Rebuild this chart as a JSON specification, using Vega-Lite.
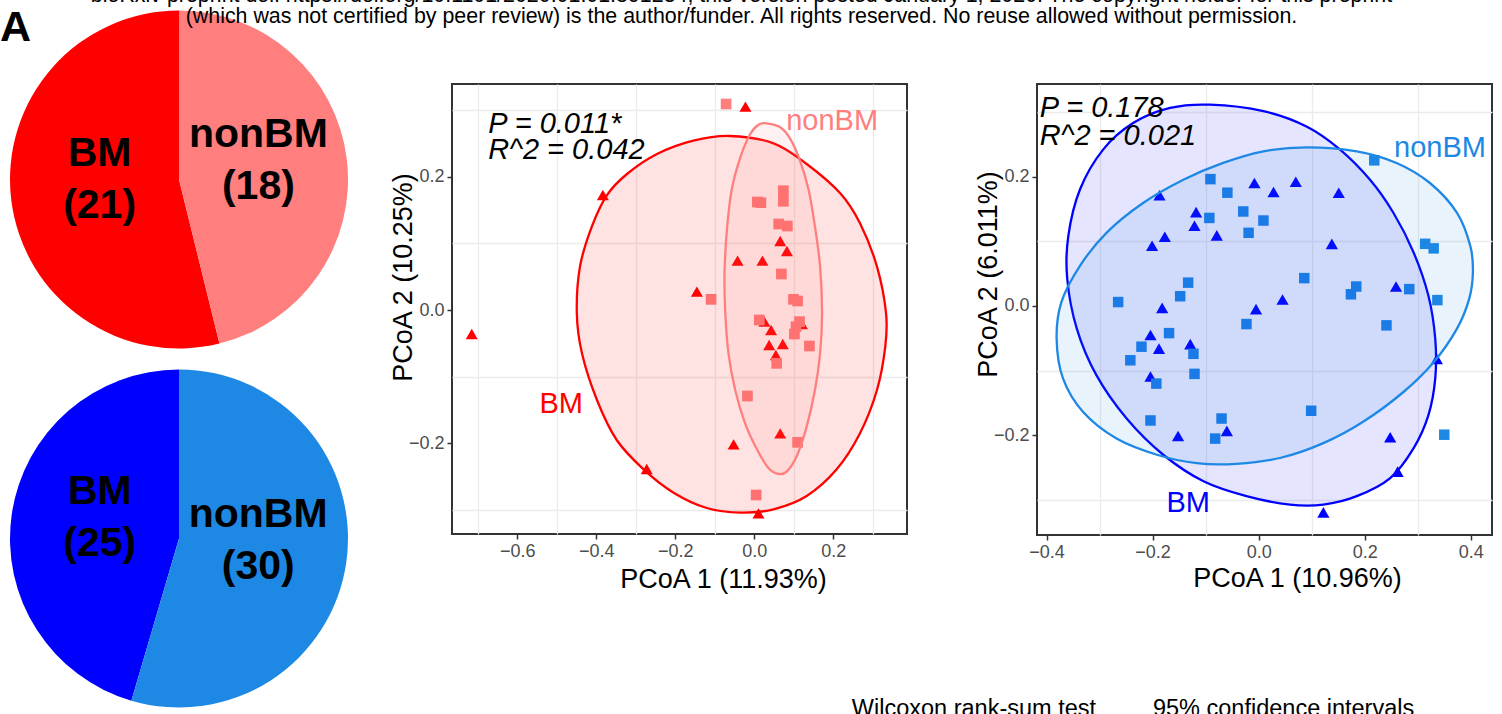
{
  "$schema": "https://vega.github.io/schema/vega-lite/v6.json",
  "background": "white",
  "padding": {"top": -16, "left": 0, "right": 0, "bottom": 0},
  "title": {
    "text": ["bioRxiv preprint doi: https://doi.org/10.1101/2020.01.01.891234; this version posted January 1, 2020. The copyright holder for this preprint", "(which was not certified by peer review) is the author/funder. All rights reserved. No reuse allowed without permission."],
    "anchor": "middle", "frame": "bounds", "offset": -27, "dx": -5, "fontSize": 21.4, "fontWeight": "normal", "font": "Liberation Sans", "color": "black", "lineHeight": 21
  },
  "columns": 5,
  "align": "none",
  "bounds": "flush",
  "spacing": 0,
  "resolve": {"scale": {"color": "independent"}},
  "concat": [
    {"width": 358, "height": 84, "title": {"text": "A", "anchor": "start", "frame": "group", "offset": -50, "fontSize": 43, "fontWeight": "bold", "color": "black", "font": "Liberation Sans"},
     "data": {"values": [{}]}, "mark": "text", "encoding": {"text": {"value": ""}}},
    {"width": 94, "height": 84, "data": {"values": [{}]}, "mark": "text", "encoding": {"text": {"value": ""}}},
    {"width": 455, "height": 84, "data": {"values": [{}]}, "mark": "text", "encoding": {"text": {"value": ""}}},
    {"width": 130, "height": 84, "data": {"values": [{}]}, "mark": "text", "encoding": {"text": {"value": ""}}},
    {"width": 455, "height": 84, "data": {"values": [{}]}, "mark": "text", "encoding": {"text": {"value": ""}}},
    {
      "width": 358, "height": 550,
      "resolve": {"scale": {"color": "independent", "theta": "independent"}},
      "layer": [
        {
          "data": {"name": "pie1"},
          "encoding": {
            "y": {"field": "panel", "type": "nominal", "scale": {"type": "point", "domain": ["top", "bottom"], "padding": 0.266}, "axis": null},
            "theta": {"field": "n", "type": "quantitative", "stack": true},
            "order": {"field": "grp", "sort": "descending"}
          },
          "layer": [
            {"mark": {"type": "arc", "outerRadius": 169},
             "encoding": {"color": {"field": "grp", "type": "nominal", "scale": {"domain": ["BM", "nonBM"], "range": ["#FF0000", "#FF7F7F"]}, "legend": null}}},
            {"mark": {"type": "text", "radius": 80, "dy": -35, "fontSize": 41, "fontWeight": "bold", "font": "Liberation Sans", "lineBreak": "\n", "lineHeight": 52, "color": "black", "baseline": "middle"},
             "encoding": {"text": {"field": "lab"}}}
          ]
        },
        {
          "data": {"name": "pie2"},
          "encoding": {
            "y": {"field": "panel", "type": "nominal", "scale": {"type": "point", "domain": ["top", "bottom"], "padding": 0.266}, "axis": null},
            "theta": {"field": "n", "type": "quantitative", "stack": true},
            "order": {"field": "grp", "sort": "descending"}
          },
          "layer": [
            {"mark": {"type": "arc", "outerRadius": 169},
             "encoding": {"color": {"field": "grp", "type": "nominal", "scale": {"domain": ["BM", "nonBM"], "range": ["#0000FF", "#1E88E5"]}, "legend": null}}},
            {"mark": {"type": "text", "radius": 80, "dy": -35, "fontSize": 41, "fontWeight": "bold", "font": "Liberation Sans", "lineBreak": "\n", "lineHeight": 52, "color": "black", "baseline": "middle"},
             "encoding": {"text": {"field": "lab"}}}
          ]
        }
      ]
    },
    {"width": 94, "height": 10, "data": {"values": [{}]}, "mark": "text", "encoding": {"text": {"value": ""}}},
    {
      "width": 455, "height": 450,
      "view": {"stroke": "#333333", "strokeWidth": 2},
      "encoding": {
        "x": {"field": "x", "type": "quantitative", "scale": {"domain": [-0.765, 0.387], "nice": false, "zero": false},
          "axis": {"values": [-0.7, -0.6, -0.5, -0.4, -0.3, -0.2, -0.1, 0, 0.1, 0.2, 0.3], "format": ".1f",
                   "labelExpr": "abs(round(datum.value*10)) % 2 == 0 ? datum.label : ''",
                   "grid": true, "gridColor": "#EBEBEB", "gridWidth": 1.3,
                   "gridOpacity": {"condition": {"test": "abs(round(datum.value*10)) % 2 == 1", "value": 1}, "value": 0},
                   "tickOpacity": {"condition": {"test": "abs(round(datum.value*10)) % 2 == 0", "value": 1}, "value": 0},
                   "title": "PCoA 1 (11.93%)", "titleX": 271, "titleY": 53, "titleBaseline": "alphabetic", "titleAlign": "center"}},
        "y": {"field": "y", "type": "quantitative", "scale": {"domain": [-0.336, 0.339], "nice": false, "zero": false},
          "axis": {"values": [-0.3, -0.2, -0.1, 0, 0.1, 0.2, 0.3], "format": ".1f",
                   "labelExpr": "abs(round(datum.value*10)) % 2 == 0 ? datum.label : ''",
                   "grid": true, "gridColor": "#EBEBEB", "gridWidth": 1.3,
                   "gridOpacity": {"condition": {"test": "abs(round(datum.value*10)) % 2 == 1", "value": 1}, "value": 0},
                   "tickOpacity": {"condition": {"test": "abs(round(datum.value*10)) % 2 == 0", "value": 1}, "value": 0},
                   "title": "PCoA 2 (10.25%)", "titleX": -41, "titleY": 193, "titleAngle": 270, "titleBaseline": "alphabetic", "titleAlign": "center"}}
      },
      "layer": [
        {"data": {"name": "p1pts"}, "transform": [{"filter": "datum.grp == 'BM'"}],
         "mark": {"type": "point", "shape": "triangle-up", "filled": true, "opacity": 1, "size": 144, "color": "#FF0000"}},
        {"data": {"name": "p1pts"}, "transform": [{"filter": "datum.grp == 'nonBM'"}],
         "mark": {"type": "point", "shape": "square", "filled": true, "opacity": 1, "size": 114, "color": "#FF7F7F"}},
        {"data": {"name": "p1ell"}, "transform": [{"filter": "datum.grp == 'BM'"}],
         "mark": {"type": "line", "interpolate": "cardinal-closed", "stroke": "#FF0000", "strokeWidth": 2.3, "fill": "#FF0000", "fillOpacity": 0.11},
         "encoding": {"order": {"field": "i", "type": "quantitative"}}},
        {"data": {"name": "p1ell"}, "transform": [{"filter": "datum.grp == 'nonBM'"}],
         "mark": {"type": "line", "interpolate": "cardinal-closed", "stroke": "#FF7F7F", "strokeWidth": 2.3, "fill": "#FF7F7F", "fillOpacity": 0.11},
         "encoding": {"order": {"field": "i", "type": "quantitative"}}},
        {"data": {"name": "p1ann"},
         "mark": {"type": "text", "align": "left", "baseline": "alphabetic", "fontSize": 29, "fontStyle": "italic", "font": "Liberation Sans", "color": "black"},
         "encoding": {"text": {"field": "label"}}},
        {"data": {"name": "p1grp"},
         "mark": {"type": "text", "align": "center", "baseline": "alphabetic", "fontSize": 29, "font": "Liberation Sans"},
         "encoding": {"text": {"field": "grp"},
                      "color": {"field": "grp", "type": "nominal", "scale": {"domain": ["BM", "nonBM"], "range": ["#FF0000", "#FF7F7F"]}, "legend": null}}}
      ]
    },
    {"width": 130, "height": 10, "data": {"values": [{}]}, "mark": "text", "encoding": {"text": {"value": ""}}},
    {
      "width": 455, "height": 451,
      "view": {"stroke": "#333333", "strokeWidth": 2},
      "encoding": {
        "x": {"field": "x", "type": "quantitative", "scale": {"domain": [-0.418, 0.44], "nice": false, "zero": false},
          "axis": {"values": [-0.4, -0.3, -0.2, -0.1, 0, 0.1, 0.2, 0.3, 0.4], "format": ".1f",
                   "labelExpr": "abs(round(datum.value*10)) % 2 == 0 ? datum.label : ''",
                   "grid": true, "gridColor": "#EBEBEB", "gridWidth": 1.3,
                   "gridOpacity": {"condition": {"test": "abs(round(datum.value*10)) % 2 == 1", "value": 1}, "value": 0},
                   "tickOpacity": {"condition": {"test": "abs(round(datum.value*10)) % 2 == 0", "value": 1}, "value": 0},
                   "title": "PCoA 1 (10.96%)", "titleX": 260, "titleY": 51, "titleBaseline": "alphabetic", "titleAlign": "center"}},
        "y": {"field": "y", "type": "quantitative", "scale": {"domain": [-0.354, 0.343], "nice": false, "zero": false},
          "axis": {"values": [-0.3, -0.2, -0.1, 0, 0.1, 0.2, 0.3], "format": ".1f",
                   "labelExpr": "abs(round(datum.value*10)) % 2 == 0 ? datum.label : ''",
                   "grid": true, "gridColor": "#EBEBEB", "gridWidth": 1.3,
                   "gridOpacity": {"condition": {"test": "abs(round(datum.value*10)) % 2 == 1", "value": 1}, "value": 0},
                   "tickOpacity": {"condition": {"test": "abs(round(datum.value*10)) % 2 == 0", "value": 1}, "value": 0},
                   "title": "PCoA 2 (6.011%)", "titleX": -41, "titleY": 190, "titleAngle": 270, "titleBaseline": "alphabetic", "titleAlign": "center"}}
      },
      "layer": [
        {"data": {"name": "p2pts"}, "transform": [{"filter": "datum.grp == 'BM'"}],
         "mark": {"type": "point", "shape": "triangle-up", "filled": true, "opacity": 1, "size": 150, "color": "#0000FF"}},
        {"data": {"name": "p2pts"}, "transform": [{"filter": "datum.grp == 'nonBM'"}],
         "mark": {"type": "point", "shape": "square", "filled": true, "opacity": 1, "size": 110, "color": "#1E88E5"}},
        {"data": {"name": "p2ell"}, "transform": [{"filter": "datum.grp == 'BM'"}],
         "mark": {"type": "line", "interpolate": "cardinal-closed", "stroke": "#0000FF", "strokeWidth": 2.3, "fill": "#0000FF", "fillOpacity": 0.1},
         "encoding": {"order": {"field": "i", "type": "quantitative"}}},
        {"data": {"name": "p2ell"}, "transform": [{"filter": "datum.grp == 'nonBM'"}],
         "mark": {"type": "line", "interpolate": "cardinal-closed", "stroke": "#1E88E5", "strokeWidth": 2.3, "fill": "#1E88E5", "fillOpacity": 0.1},
         "encoding": {"order": {"field": "i", "type": "quantitative"}}},
        {"data": {"name": "p2ann"},
         "mark": {"type": "text", "align": "left", "baseline": "alphabetic", "fontSize": 29, "fontStyle": "italic", "font": "Liberation Sans", "color": "black"},
         "encoding": {"text": {"field": "label"}}},
        {"data": {"name": "p2grp"},
         "mark": {"type": "text", "align": "center", "baseline": "alphabetic", "fontSize": 29, "font": "Liberation Sans"},
         "encoding": {"text": {"field": "grp"},
                      "color": {"field": "grp", "type": "nominal", "scale": {"domain": ["BM", "nonBM"], "range": ["#0000FF", "#1E88E5"]}, "legend": null}}},
        {"data": {"name": "p2foot"},
         "mark": {"type": "text", "align": "center", "baseline": "alphabetic", "fontSize": 23.5, "font": "Liberation Sans", "color": "black"},
         "encoding": {"text": {"field": "label"}}}
      ]
    }
  ],
  "datasets": {
    "pie1": [{"panel": "top", "grp": "BM", "n": 21, "lab": "BM\n(21)"}, {"panel": "top", "grp": "nonBM", "n": 18, "lab": "nonBM\n(18)"}],
    "pie2": [{"panel": "bottom", "grp": "BM", "n": 25, "lab": "BM\n(25)"}, {"panel": "bottom", "grp": "nonBM", "n": 30, "lab": "nonBM\n(30)"}],
    "p1pts": [
      {"grp": "BM", "x": -0.022, "y": 0.305}, {"grp": "BM", "x": -0.383, "y": 0.1725}, {"grp": "BM", "x": -0.715, "y": -0.036},
      {"grp": "BM", "x": 0.066, "y": 0.1035}, {"grp": "BM", "x": 0.083, "y": 0.0885}, {"grp": "BM", "x": -0.042, "y": 0.074},
      {"grp": "BM", "x": 0.021, "y": 0.074}, {"grp": "BM", "x": -0.145, "y": 0.0275}, {"grp": "BM", "x": 0.026, "y": -0.0175},
      {"grp": "BM", "x": 0.043, "y": -0.03}, {"grp": "BM", "x": 0.038, "y": -0.0525}, {"grp": "BM", "x": 0.0725, "y": -0.051},
      {"grp": "BM", "x": 0.055, "y": -0.0675}, {"grp": "BM", "x": 0.121, "y": -0.021}, {"grp": "BM", "x": 0.066, "y": -0.185},
      {"grp": "BM", "x": -0.052, "y": -0.2015}, {"grp": "BM", "x": -0.272, "y": -0.2385}, {"grp": "BM", "x": 0.011, "y": -0.305},
      {"grp": "nonBM", "x": -0.071, "y": 0.309}, {"grp": "nonBM", "x": 0.008, "y": 0.162}, {"grp": "nonBM", "x": 0.017, "y": 0.161},
      {"grp": "nonBM", "x": 0.074, "y": 0.179}, {"grp": "nonBM", "x": 0.074, "y": 0.163}, {"grp": "nonBM", "x": 0.062, "y": 0.129},
      {"grp": "nonBM", "x": 0.084, "y": 0.126}, {"grp": "nonBM", "x": 0.069, "y": 0.054}, {"grp": "nonBM", "x": -0.109, "y": 0.016},
      {"grp": "nonBM", "x": 0.0996, "y": 0.016}, {"grp": "nonBM", "x": 0.11, "y": 0.0135}, {"grp": "nonBM", "x": 0.013, "y": -0.015},
      {"grp": "nonBM", "x": 0.115, "y": -0.0175}, {"grp": "nonBM", "x": 0.106, "y": -0.025}, {"grp": "nonBM", "x": 0.102, "y": -0.036},
      {"grp": "nonBM", "x": 0.14, "y": -0.054}, {"grp": "nonBM", "x": 0.057, "y": -0.08}, {"grp": "nonBM", "x": -0.017, "y": -0.129},
      {"grp": "nonBM", "x": 0.11, "y": -0.1985}, {"grp": "nonBM", "x": 0.005, "y": -0.2775}
    ],
    "p1ell": [
      {"grp": "BM", "i": 1, "x": -0.061, "y": 0.261}, {"grp": "BM", "i": 2, "x": 0.049, "y": 0.25}, {"grp": "BM", "i": 3, "x": 0.133, "y": 0.219},
      {"grp": "BM", "i": 4, "x": 0.218, "y": 0.175}, {"grp": "BM", "i": 5, "x": 0.268, "y": 0.13}, {"grp": "BM", "i": 6, "x": 0.311, "y": 0.065},
      {"grp": "BM", "i": 7, "x": 0.334, "y": -0.005}, {"grp": "BM", "i": 8, "x": 0.332, "y": -0.055}, {"grp": "BM", "i": 9, "x": 0.311, "y": -0.12},
      {"grp": "BM", "i": 10, "x": 0.268, "y": -0.185}, {"grp": "BM", "i": 11, "x": 0.209, "y": -0.239}, {"grp": "BM", "i": 12, "x": 0.133, "y": -0.279},
      {"grp": "BM", "i": 13, "x": 0.049, "y": -0.299}, {"grp": "BM", "i": 14, "x": -0.035, "y": -0.304}, {"grp": "BM", "i": 15, "x": -0.12, "y": -0.297},
      {"grp": "BM", "i": 16, "x": -0.204, "y": -0.274}, {"grp": "BM", "i": 17, "x": -0.28, "y": -0.239}, {"grp": "BM", "i": 18, "x": -0.348, "y": -0.195},
      {"grp": "BM", "i": 19, "x": -0.398, "y": -0.135}, {"grp": "BM", "i": 20, "x": -0.436, "y": -0.065}, {"grp": "BM", "i": 21, "x": -0.449, "y": -0.005},
      {"grp": "BM", "i": 22, "x": -0.441, "y": 0.065}, {"grp": "BM", "i": 23, "x": -0.411, "y": 0.125}, {"grp": "BM", "i": 24, "x": -0.373, "y": 0.172},
      {"grp": "BM", "i": 25, "x": -0.322, "y": 0.204}, {"grp": "BM", "i": 26, "x": -0.246, "y": 0.234}, {"grp": "BM", "i": 27, "x": -0.154, "y": 0.254},
      {"grp": "nonBM", "i": 1, "x": 0.032, "y": 0.28}, {"grp": "nonBM", "i": 2, "x": 0.066, "y": 0.274}, {"grp": "nonBM", "i": 3, "x": 0.091, "y": 0.257},
      {"grp": "nonBM", "i": 4, "x": 0.116, "y": 0.224}, {"grp": "nonBM", "i": 5, "x": 0.138, "y": 0.18}, {"grp": "nonBM", "i": 6, "x": 0.154, "y": 0.125},
      {"grp": "nonBM", "i": 7, "x": 0.167, "y": 0.065}, {"grp": "nonBM", "i": 8, "x": 0.172, "y": -0.005}, {"grp": "nonBM", "i": 9, "x": 0.167, "y": -0.065},
      {"grp": "nonBM", "i": 10, "x": 0.154, "y": -0.12}, {"grp": "nonBM", "i": 11, "x": 0.133, "y": -0.175}, {"grp": "nonBM", "i": 12, "x": 0.108, "y": -0.219},
      {"grp": "nonBM", "i": 13, "x": 0.083, "y": -0.242}, {"grp": "nonBM", "i": 14, "x": 0.062, "y": -0.246}, {"grp": "nonBM", "i": 15, "x": 0.036, "y": -0.237},
      {"grp": "nonBM", "i": 16, "x": 0.007, "y": -0.209}, {"grp": "nonBM", "i": 17, "x": -0.023, "y": -0.17}, {"grp": "nonBM", "i": 18, "x": -0.048, "y": -0.12},
      {"grp": "nonBM", "i": 19, "x": -0.065, "y": -0.065}, {"grp": "nonBM", "i": 20, "x": -0.073, "y": -0.005}, {"grp": "nonBM", "i": 21, "x": -0.075, "y": 0.055},
      {"grp": "nonBM", "i": 22, "x": -0.069, "y": 0.12}, {"grp": "nonBM", "i": 23, "x": -0.057, "y": 0.18}, {"grp": "nonBM", "i": 24, "x": -0.035, "y": 0.229},
      {"grp": "nonBM", "i": 25, "x": -0.01, "y": 0.264}, {"grp": "nonBM", "i": 26, "x": 0.011, "y": 0.278}
    ],
    "p1ann": [{"label": "P = 0.011*", "x": -0.673, "y": 0.2655}, {"label": "R^2 = 0.042", "x": -0.673, "y": 0.2265}],
    "p1grp": [{"grp": "nonBM", "x": 0.1975, "y": 0.27}, {"grp": "BM", "x": -0.4886, "y": -0.154}],
    "p2pts": [
      {"grp": "BM", "x": -0.008, "y": 0.19}, {"grp": "BM", "x": 0.028, "y": 0.176}, {"grp": "BM", "x": 0.07, "y": 0.192},
      {"grp": "BM", "x": 0.151, "y": 0.175}, {"grp": "BM", "x": -0.187, "y": 0.171}, {"grp": "BM", "x": -0.118, "y": 0.145},
      {"grp": "BM", "x": -0.121, "y": 0.124}, {"grp": "BM", "x": -0.177, "y": 0.107}, {"grp": "BM", "x": -0.201, "y": 0.093},
      {"grp": "BM", "x": -0.079, "y": 0.109}, {"grp": "BM", "x": 0.138, "y": 0.096}, {"grp": "BM", "x": 0.259, "y": 0.03},
      {"grp": "BM", "x": 0.045, "y": 0.01}, {"grp": "BM", "x": -0.005, "y": -0.005}, {"grp": "BM", "x": -0.182, "y": -0.003},
      {"grp": "BM", "x": -0.204, "y": -0.045}, {"grp": "BM", "x": -0.188, "y": -0.066}, {"grp": "BM", "x": -0.129, "y": -0.059},
      {"grp": "BM", "x": -0.204, "y": -0.109}, {"grp": "BM", "x": 0.336, "y": -0.082}, {"grp": "BM", "x": -0.06, "y": -0.193},
      {"grp": "BM", "x": -0.152, "y": -0.201}, {"grp": "BM", "x": 0.248, "y": -0.203}, {"grp": "BM", "x": 0.262, "y": -0.256},
      {"grp": "BM", "x": 0.122, "y": -0.319},
      {"grp": "nonBM", "x": 0.218, "y": 0.225}, {"grp": "nonBM", "x": -0.091, "y": 0.196}, {"grp": "nonBM", "x": -0.059, "y": 0.175},
      {"grp": "nonBM", "x": -0.029, "y": 0.146}, {"grp": "nonBM", "x": -0.093, "y": 0.136}, {"grp": "nonBM", "x": 0.009, "y": 0.132},
      {"grp": "nonBM", "x": -0.019, "y": 0.113}, {"grp": "nonBM", "x": 0.314, "y": 0.096}, {"grp": "nonBM", "x": 0.33, "y": 0.089},
      {"grp": "nonBM", "x": 0.086, "y": 0.043}, {"grp": "nonBM", "x": 0.184, "y": 0.03}, {"grp": "nonBM", "x": 0.174, "y": 0.018},
      {"grp": "nonBM", "x": 0.284, "y": 0.026}, {"grp": "nonBM", "x": 0.337, "y": 0.009}, {"grp": "nonBM", "x": -0.133, "y": 0.036},
      {"grp": "nonBM", "x": -0.148, "y": 0.015}, {"grp": "nonBM", "x": -0.265, "y": 0.006}, {"grp": "nonBM", "x": -0.023, "y": -0.028},
      {"grp": "nonBM", "x": 0.241, "y": -0.03}, {"grp": "nonBM", "x": -0.169, "y": -0.042}, {"grp": "nonBM", "x": -0.221, "y": -0.063},
      {"grp": "nonBM", "x": -0.242, "y": -0.084}, {"grp": "nonBM", "x": -0.123, "y": -0.074}, {"grp": "nonBM", "x": -0.121, "y": -0.105},
      {"grp": "nonBM", "x": -0.193, "y": -0.12}, {"grp": "nonBM", "x": 0.099, "y": -0.162}, {"grp": "nonBM", "x": -0.204, "y": -0.177},
      {"grp": "nonBM", "x": -0.07, "y": -0.174}, {"grp": "nonBM", "x": -0.082, "y": -0.205}, {"grp": "nonBM", "x": 0.35, "y": -0.199}
    ],
    "p2ell": [
      {"grp": "BM", "i": 1, "x": -0.092, "y": 0.311}, {"grp": "BM", "i": 2, "x": 0.009, "y": 0.301}, {"grp": "BM", "i": 3, "x": 0.091, "y": 0.277},
      {"grp": "BM", "i": 4, "x": 0.153, "y": 0.242}, {"grp": "BM", "i": 5, "x": 0.21, "y": 0.195}, {"grp": "BM", "i": 6, "x": 0.254, "y": 0.144},
      {"grp": "BM", "i": 7, "x": 0.292, "y": 0.083}, {"grp": "BM", "i": 8, "x": 0.32, "y": 0.016}, {"grp": "BM", "i": 9, "x": 0.333, "y": -0.051},
      {"grp": "BM", "i": 10, "x": 0.333, "y": -0.112}, {"grp": "BM", "i": 11, "x": 0.32, "y": -0.169}, {"grp": "BM", "i": 12, "x": 0.292, "y": -0.22},
      {"grp": "BM", "i": 13, "x": 0.248, "y": -0.266}, {"grp": "BM", "i": 14, "x": 0.185, "y": -0.294}, {"grp": "BM", "i": 15, "x": 0.122, "y": -0.307},
      {"grp": "BM", "i": 16, "x": 0.059, "y": -0.307}, {"grp": "BM", "i": 17, "x": -0.023, "y": -0.294}, {"grp": "BM", "i": 18, "x": -0.104, "y": -0.271},
      {"grp": "BM", "i": 19, "x": -0.18, "y": -0.23}, {"grp": "BM", "i": 20, "x": -0.249, "y": -0.174}, {"grp": "BM", "i": 21, "x": -0.306, "y": -0.107},
      {"grp": "BM", "i": 22, "x": -0.343, "y": -0.035}, {"grp": "BM", "i": 23, "x": -0.361, "y": 0.042}, {"grp": "BM", "i": 24, "x": -0.359, "y": 0.108},
      {"grp": "BM", "i": 25, "x": -0.337, "y": 0.18}, {"grp": "BM", "i": 26, "x": -0.293, "y": 0.242}, {"grp": "BM", "i": 27, "x": -0.236, "y": 0.283},
      {"grp": "BM", "i": 28, "x": -0.167, "y": 0.306},
      {"grp": "nonBM", "i": 1, "x": 0.091, "y": 0.245}, {"grp": "nonBM", "i": 2, "x": 0.185, "y": 0.239}, {"grp": "nonBM", "i": 3, "x": 0.26, "y": 0.221},
      {"grp": "nonBM", "i": 4, "x": 0.323, "y": 0.19}, {"grp": "nonBM", "i": 5, "x": 0.374, "y": 0.144}, {"grp": "nonBM", "i": 6, "x": 0.399, "y": 0.093},
      {"grp": "nonBM", "i": 7, "x": 0.404, "y": 0.052}, {"grp": "nonBM", "i": 8, "x": 0.397, "y": 0.011}, {"grp": "nonBM", "i": 9, "x": 0.374, "y": -0.035},
      {"grp": "nonBM", "i": 10, "x": 0.33, "y": -0.087}, {"grp": "nonBM", "i": 11, "x": 0.273, "y": -0.133}, {"grp": "nonBM", "i": 12, "x": 0.197, "y": -0.179},
      {"grp": "nonBM", "i": 13, "x": 0.122, "y": -0.212}, {"grp": "nonBM", "i": 14, "x": 0.04, "y": -0.235}, {"grp": "nonBM", "i": 15, "x": -0.042, "y": -0.244},
      {"grp": "nonBM", "i": 16, "x": -0.117, "y": -0.243}, {"grp": "nonBM", "i": 17, "x": -0.192, "y": -0.23}, {"grp": "nonBM", "i": 18, "x": -0.268, "y": -0.205},
      {"grp": "nonBM", "i": 19, "x": -0.331, "y": -0.164}, {"grp": "nonBM", "i": 20, "x": -0.369, "y": -0.112}, {"grp": "nonBM", "i": 21, "x": -0.381, "y": -0.051},
      {"grp": "nonBM", "i": 22, "x": -0.372, "y": 0.006}, {"grp": "nonBM", "i": 23, "x": -0.337, "y": 0.062}, {"grp": "nonBM", "i": 24, "x": -0.287, "y": 0.113},
      {"grp": "nonBM", "i": 25, "x": -0.218, "y": 0.159}, {"grp": "nonBM", "i": 26, "x": -0.142, "y": 0.195}, {"grp": "nonBM", "i": 27, "x": -0.067, "y": 0.221},
      {"grp": "nonBM", "i": 28, "x": 0.009, "y": 0.239}
    ],
    "p2ann": [{"label": "P = 0.178", "x": -0.4126, "y": 0.2914}, {"label": "R^2 = 0.021", "x": -0.4126, "y": 0.249}],
    "p2grp": [{"grp": "nonBM", "x": 0.342, "y": 0.23}, {"grp": "BM", "x": -0.133, "y": -0.318}],
    "p2foot": [{"label": "Wilcoxon rank-sum test", "x": -0.537, "y": -0.634}, {"label": "95% confidence intervals", "x": 0.047, "y": -0.634}]
  },
  "config": {
    "view": {"stroke": null},
    "font": "Liberation Sans",
    "axis": {
      "domain": false, "tickColor": "#333333", "tickWidth": 1.5, "tickSize": 5,
      "labelColor": "#4D4D4D", "labelFontSize": 18, "labelFont": "Liberation Sans", "labelPadding": 3,
      "labelFlush": false, "labelOverlap": false,
      "titleFont": "Liberation Sans", "titleFontSize": 27, "titleFontWeight": "normal", "titleColor": "black"
    }
  }
}
